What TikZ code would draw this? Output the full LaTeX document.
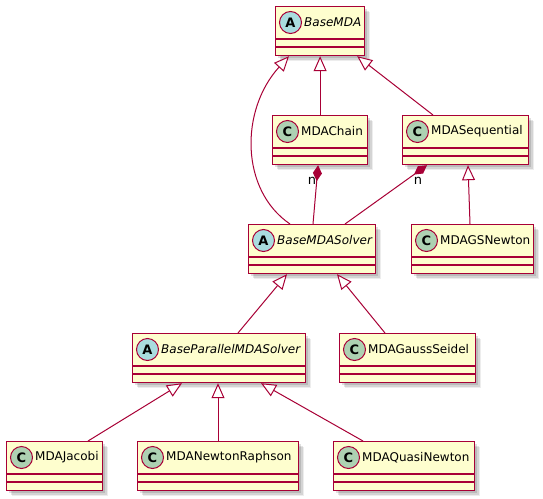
\documentclass[tikz,border=0pt]{standalone}
\usepackage{fontspec}
\setmainfont{DejaVu Sans}
\usetikzlibrary{arrows.meta,calc,shadows}
\definecolor{umlborder}{HTML}{A80036}
\definecolor{umlfill}{HTML}{FEFECE}
\definecolor{umlC}{HTML}{ADD1B2}
\definecolor{umlA}{HTML}{A9DCDF}
\tikzset{
  classbox/.style={rectangle, draw=umlborder, fill=umlfill, line width=1.2pt,
    minimum height=49pt, inner sep=0pt, anchor=north west,
    general shadow={shadow xshift=5pt,shadow yshift=-5pt,fill=black,opacity=.07},
    general shadow={shadow xshift=4pt,shadow yshift=-4pt,fill=black,opacity=.10},
    general shadow={shadow xshift=2.5pt,shadow yshift=-2.5pt,fill=black,opacity=.12}},
  sepline/.style={draw=umlborder, line width=1.2pt},
  badge/.style={circle, draw=umlborder, line width=1pt, minimum size=22pt, inner sep=0pt,
    font=\fontsize{13}{15}\selectfont\bfseries},
  classname/.style={anchor=west, inner sep=0pt, font=\fontsize{12}{14}\selectfont},
  umledge/.style={draw=umlborder, line width=1pt},
  ext/.style={arrows={-Triangle[length=15pt,width=13pt,fill=white]}},
  compo/.style={arrows={Diamond[length=16pt,width=9pt]-}},
  mult/.style={inner sep=0pt, font=\fontsize{13}{15}\selectfont}
}
\newcommand{\umlclass}[7]{%
  \node[classbox, minimum width=#4pt] (#1) at (#2,#3) {};
  \draw[sepline] ($(#1.north west)+(0,33)$) -- ($(#1.north east)+(0,33)$);
  \draw[sepline] ($(#1.north west)+(0,41)$) -- ($(#1.north east)+(0,41)$);
  \node[badge, fill=#6] (#1-b) at ($(#1.north west)+(15.5,16.5)$) {#5};
  \node[classname] (#1-t) at ($(#1.north west)+(29,16.5)$) {#7};
}
\begin{document}
\begin{tikzpicture}[x=1pt,y=-1pt]
\fill[white] (0,0) rectangle (543,498);
\useasboundingbox (0,0) rectangle (543,498);

\umlclass{basemda}{275}{6}{89}{A}{umlA}{\itshape BaseMDA}
\umlclass{mdachain}{272}{115}{95}{C}{umlC}{MDAChain}
\umlclass{mdaseq}{402}{115}{126}{C}{umlC}{MDASequential}
\umlclass{bms}{248}{224}{127}{A}{umlA}{\itshape BaseMDASolver}
\umlclass{gsn}{411}{224}{122}{C}{umlC}{MDAGSNewton}
\umlclass{bpms}{132}{333}{173}{A}{umlA}{\itshape BaseParallelMDASolver}
\umlclass{gs}{339}{333}{136}{C}{umlC}{MDAGaussSeidel}
\umlclass{jac}{6}{441}{96}{C}{umlC}{MDAJacobi}
\umlclass{nr}{137}{441}{161}{C}{umlC}{MDANewtonRaphson}
\umlclass{qn}{333}{441}{141}{C}{umlC}{MDAQuasiNewton}

% generalisations to BaseMDA
\draw[umledge, ext] (mdachain.north) -- (basemda.south);
\draw[umledge, ext] ($(mdaseq.north west)+(31,0)$) -- ($(basemda.south east)+(-8,0)$);
\draw[umledge, ext] ($(bms.north west)+(42,0)$) .. controls ($(bms.north west)+(-8,-34)$) and ($(bms.north west)+(-8,-114)$) .. ($(basemda.south west)+(14,0)$);

% compositions
\draw[umledge, compo] ($(mdachain.south)+(-2,0)$) -- ($(bms.north west)+(65,0)$);
\node[mult] (n1) at ($(mdachain.south)+(-8,16)$) {n};
\draw[umledge, compo] ($(mdaseq.south west)+(25,0)$) -- ($(bms.north west)+(97,0)$);
\node[mult] (n2) at ($(mdaseq.south west)+(16,16)$) {n};

% MDAGSNewton
\draw[umledge, ext] ($(gsn.north west)+(59,0)$) -- ($(mdaseq.south west)+(66,0)$);

% to BaseMDASolver
\draw[umledge, ext] ($(bpms.north west)+(106,0)$) -- ($(bms.south west)+(39,0)$);
\draw[umledge, ext] ($(gs.north west)+(46,0)$) -- ($(bms.south west)+(89,0)$);

% to BaseParallelMDASolver
\draw[umledge, ext] ($(jac.north west)+(82,0)$) -- ($(bpms.south west)+(50,0)$);
\draw[umledge, ext] ($(nr.north west)+(81,0)$) -- ($(bpms.south west)+(86,0)$);
\draw[umledge, ext] ($(qn.north west)+(30,0)$) -- ($(bpms.south west)+(129,0)$);
\end{tikzpicture}
\end{document}
